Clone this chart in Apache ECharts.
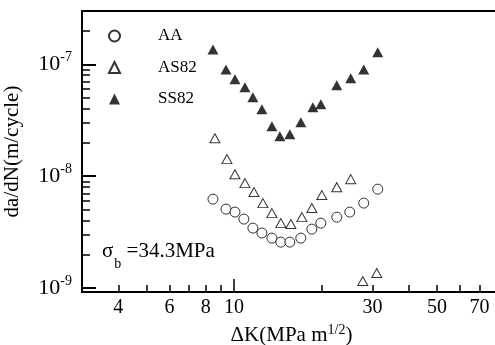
<!DOCTYPE html>
<html>
<head>
<meta charset="utf-8">
<script src="https://cdn.jsdelivr.net/npm/echarts@6/dist/echarts.min.js"></script>
<style>
html, body { margin: 0; padding: 0; background: #fff; }
#chart { width: 495px; height: 345px; }
</style>
</head>
<body>
<div id="chart"></div>
<script>
const FONT = '"Liberation Serif", "Times New Roman", serif'

// AA
const aaK = [8.47, 9.39, 10.08, 10.82, 11.62, 12.48, 13.51, 14.5, 15.57, 16.99, 18.54, 19.91, 22.59, 25.04, 27.97, 31.25]
const aaRate = [6.23e-9, 5.07e-9, 4.77e-9, 4.13e-9, 3.43e-9, 3.1e-9, 2.79e-9, 2.57e-9, 2.57e-9, 2.79e-9, 3.36e-9, 3.8e-9, 4.3e-9, 4.77e-9, 5.74e-9, 7.65e-9]
// AS82
const as82K = [8.6, 9.46, 10.08, 10.91, 11.72, 12.58, 13.51, 14.5, 15.7, 17.13, 18.54, 20.07, 22.59, 25.23, 27.76, 31.01]
const as82Rate = [2.18e-8, 1.42e-8, 1.04e-8, 8.66e-9, 7.2e-9, 5.74e-9, 4.67e-9, 3.8e-9, 3.73e-9, 4.3e-9, 5.18e-9, 6.77e-9, 7.97e-9, 9.4e-9, 1.155e-9, 1.36e-9]
// SS82
const ss82K = [8.47, 9.39, 10.08, 10.91, 11.62, 12.48, 13.51, 14.39, 15.57, 16.99, 18.69, 19.91, 22.59, 25.23, 27.97, 31.25]
const ss82Rate = [1.36e-7, 9.0e-8, 7.35e-8, 6.23e-8, 5.07e-8, 3.96e-8, 2.79e-8, 2.28e-8, 2.37e-8, 3.03e-8, 4.13e-8, 4.4e-8, 6.49e-8, 7.5e-8, 9.0e-8, 1.28e-7]

const xLabels = [4, 6, 8, 10, 30, 50, 70]
const xMinorTicks = [4, 5, 6, 7, 8, 9, 20, 30, 40, 50, 60, 70]
const xMajorTicks = [10]
const yLabels = [1e-9, 1e-8, 1e-7]
const yMinorTicks = [2e-9, 3e-9, 4e-9, 5e-9, 6e-9, 7e-9, 8e-9, 9e-9,
    2e-8, 3e-8, 4e-8, 5e-8, 6e-8, 7e-8, 8e-8, 9e-8, 2e-7]
const yMajorTicks = [1e-9, 1e-8, 1e-7]

const pairs = (xs, ys) => xs.map((x, i) => [x, ys[i]])

const chart = echarts.init(document.getElementById('chart'))

// frame runs past the right edge of the picture, as in the scan
const xRange = { type: 'log', min: 3, max: 83, splitLine: { show: false } }
const yRange = { type: 'log', min: 9.2e-10, max: 3e-7, splitLine: { show: false } }
const ink = '#000'

chart.setOption({
    animation: false,
    backgroundColor: '#fff',
    textStyle: { fontFamily: FONT, color: ink },
    grid: { left: 82, right: -6, top: 11, bottom: 53, outerBoundsMode: 'none' },
    legend: {
        orient: 'vertical',
        left: 103,
        top: 22,
        itemWidth: 11,
        itemHeight: 11,
        itemGap: 13.5,
        textStyle: { fontFamily: FONT, fontSize: 17, color: ink, padding: [0, 0, 0, 33], lineHeight: 18 },
        data: ['AA', 'AS82', 'SS82']
    },
    xAxis: [
        {
            ...xRange,
            position: 'bottom',
            name: '{n|ΔK(MPa m}{s|1/2}{n|)}',
            nameLocation: 'middle',
            nameGap: 21,
            nameTextStyle: {
                rich: {
                    n: { fontFamily: FONT, fontSize: 21, color: ink, lineHeight: 25 },
                    s: { fontFamily: FONT, fontSize: 14, color: ink, verticalAlign: 'top' }
                }
            },
            axisLine: { show: true, lineStyle: { color: ink, width: 2 } },
            axisTick: { show: true, inside: true, length: 7, customValues: xMinorTicks, lineStyle: { color: ink, width: 1.5 } },
            axisLabel: {
                customValues: xLabels,
                margin: 6,
                fontFamily: FONT,
                fontSize: 20,
                color: ink,
                formatter: v => String(Math.round(v))
            }
        },
        {
            ...xRange,
            position: 'bottom',
            axisLine: { show: false },
            axisTick: { show: true, inside: true, length: 13, customValues: xMajorTicks, lineStyle: { color: ink, width: 1.5 } },
            axisLabel: { show: false }
        },
        {
            ...xRange,
            position: 'top',
            axisLine: { show: true, lineStyle: { color: ink, width: 2 } },
            axisTick: { show: false },
            axisLabel: { show: false }
        }
    ],
    yAxis: [
        {
            ...yRange,
            position: 'left',
            name: 'da/dN(m/cycle)',
            nameLocation: 'middle',
            nameGap: 59,
            nameTextStyle: { fontFamily: FONT, fontSize: 21, color: ink },
            axisLine: { show: true, lineStyle: { color: ink, width: 2 } },
            axisTick: { show: true, inside: true, length: 8, customValues: yMinorTicks, lineStyle: { color: ink, width: 1.5 } },
            axisLabel: {
                customValues: yLabels,
                margin: 10,
                formatter: v => '{b|10}{s|' + Math.round(Math.log10(v)) + '}',
                rich: {
                    b: { fontFamily: FONT, fontSize: 22, color: ink, lineHeight: 28 },
                    s: { fontFamily: FONT, fontSize: 14, color: ink, verticalAlign: 'top' }
                }
            }
        },
        {
            ...yRange,
            position: 'left',
            axisLine: { show: false },
            axisTick: { show: true, inside: true, length: 14, customValues: yMajorTicks, lineStyle: { color: ink, width: 2 } },
            axisLabel: { show: false }
        }
    ],
    series: [
        {
            name: 'AA',
            type: 'scatter',
            symbol: 'circle',
            symbolSize: 10,
            itemStyle: { color: '#fff', borderColor: ink, borderWidth: 1 },
            data: pairs(aaK, aaRate)
        },
        {
            name: 'AS82',
            type: 'scatter',
            symbol: 'triangle',
            symbolSize: [10, 9],
            itemStyle: { color: '#fff', borderColor: ink, borderWidth: 1 },
            data: pairs(as82K, as82Rate)
        },
        {
            name: 'SS82',
            type: 'scatter',
            symbol: 'triangle',
            symbolSize: [11, 10],
            itemStyle: { color: ink, borderColor: ink, borderWidth: 0 },
            data: pairs(ss82K, ss82Rate)
        }
    ],
    graphic: [
        {
            type: 'text',
            left: 102,
            top: 241,
            style: {
                text: '{g|σ}{b|b}{t| =34.3MPa}',
                rich: {
                    g: { fontFamily: FONT, fontSize: 21, fill: ink, lineHeight: 24 },
                    b: { fontFamily: FONT, fontSize: 14, fill: ink, verticalAlign: 'bottom', padding: [0, 0, -8, 1] },
                    t: { fontFamily: FONT, fontSize: 21, fill: ink }
                }
            }
        }
    ]
})
</script>
</body>
</html>
